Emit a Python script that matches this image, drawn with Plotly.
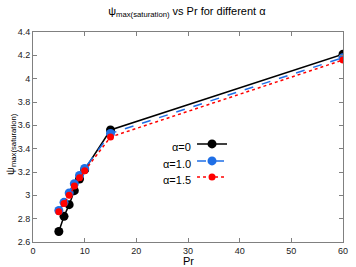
import plotly.graph_objects as go

pr = [5, 6, 7, 8, 9, 10, 15, 60]
psi_a0 = [2.69, 2.82, 2.92, 3.04, 3.14, 3.22, 3.56, 4.21]
psi_a10 = [2.87, 2.94, 3.02, 3.10, 3.17, 3.23, 3.53, 4.18]
psi_a15 = [2.86, 2.93, 3.00, 3.08, 3.15, 3.21, 3.50, 4.16]
labels = ["α=0", "α=1.0", "α=1.5"]

FONT = "Liberation Sans"
fig = go.Figure()
fig.add_trace(go.Scatter(x=pr, y=psi_a0, mode="lines+markers", name=" ", legend="legend",
                         line=dict(color="black", width=1.5),
                         marker=dict(color="black", size=9)))
fig.add_trace(go.Scatter(x=pr, y=psi_a10, mode="lines+markers", name=" ", legend="legend2",
                         line=dict(color="#1f6fe6", width=1.5, dash="dash"),
                         marker=dict(color="#1f6fe6", size=9)))
fig.add_trace(go.Scatter(x=pr, y=psi_a15, mode="lines+markers", name=" ", legend="legend3",
                         line=dict(color="#ff0000", width=1.5, dash="dot"),
                         marker=dict(color="#ff0000", size=7)))

ly = [0.462, 0.381, 0.305]
for t, yy in zip(labels, ly):
    fig.add_annotation(text=t, xref="paper", yref="paper", x=0.516, y=yy - 0.01,
                       xanchor="right", yanchor="middle", showarrow=False,
                       font=dict(family=FONT, size=11, color="black"))

# axis titles
fig.add_annotation(text="Pr", xref="paper", yref="paper", x=0.5, y=-0.09,
                   xanchor="center", yanchor="middle", showarrow=False,
                   font=dict(family=FONT, size=11, color="black"))
fig.add_annotation(text="ψ<sub>max(saturation)</sub>", xref="paper", yref="paper",
                   x=-0.071, y=0.467, textangle=-90, xanchor="center", yanchor="middle",
                   showarrow=False, font=dict(family=FONT, size=11, color="black"))

def leg(yy):
    return dict(x=0.513, y=yy + 0.005, xanchor="left", yanchor="middle", bgcolor="rgba(0,0,0,0)",
                font=dict(family=FONT, size=9), itemwidth=30)

axis_common = dict(showline=True, linecolor="#808080", linewidth=1, mirror="ticks",
                   ticks="inside", ticklen=4, tickcolor="#808080", showgrid=False,
                   zeroline=False, automargin=False,
                   tickfont=dict(family=FONT, size=9, color="#222"))
fig.update_layout(
    width=356, height=267,
    margin=dict(l=33, r=13, t=32, b=25),
    paper_bgcolor="white", plot_bgcolor="white",
    title=dict(text="ψ<sub>max(saturation)</sub> vs Pr for different α",
               x=0.525, xanchor="center", y=0.959, yanchor="middle",
               font=dict(family=FONT, size=11, color="black")),
    xaxis=dict(range=[0, 60], dtick=10, **axis_common),
    yaxis=dict(range=[2.6, 4.4], dtick=0.2, **axis_common),
    showlegend=True,
    legend=leg(ly[0]), legend2=leg(ly[1]), legend3=leg(ly[2]),
)
fig.write_html("out.html", config={"displayModeBar": False},
               post_script="document.body.style.margin='0px';")
